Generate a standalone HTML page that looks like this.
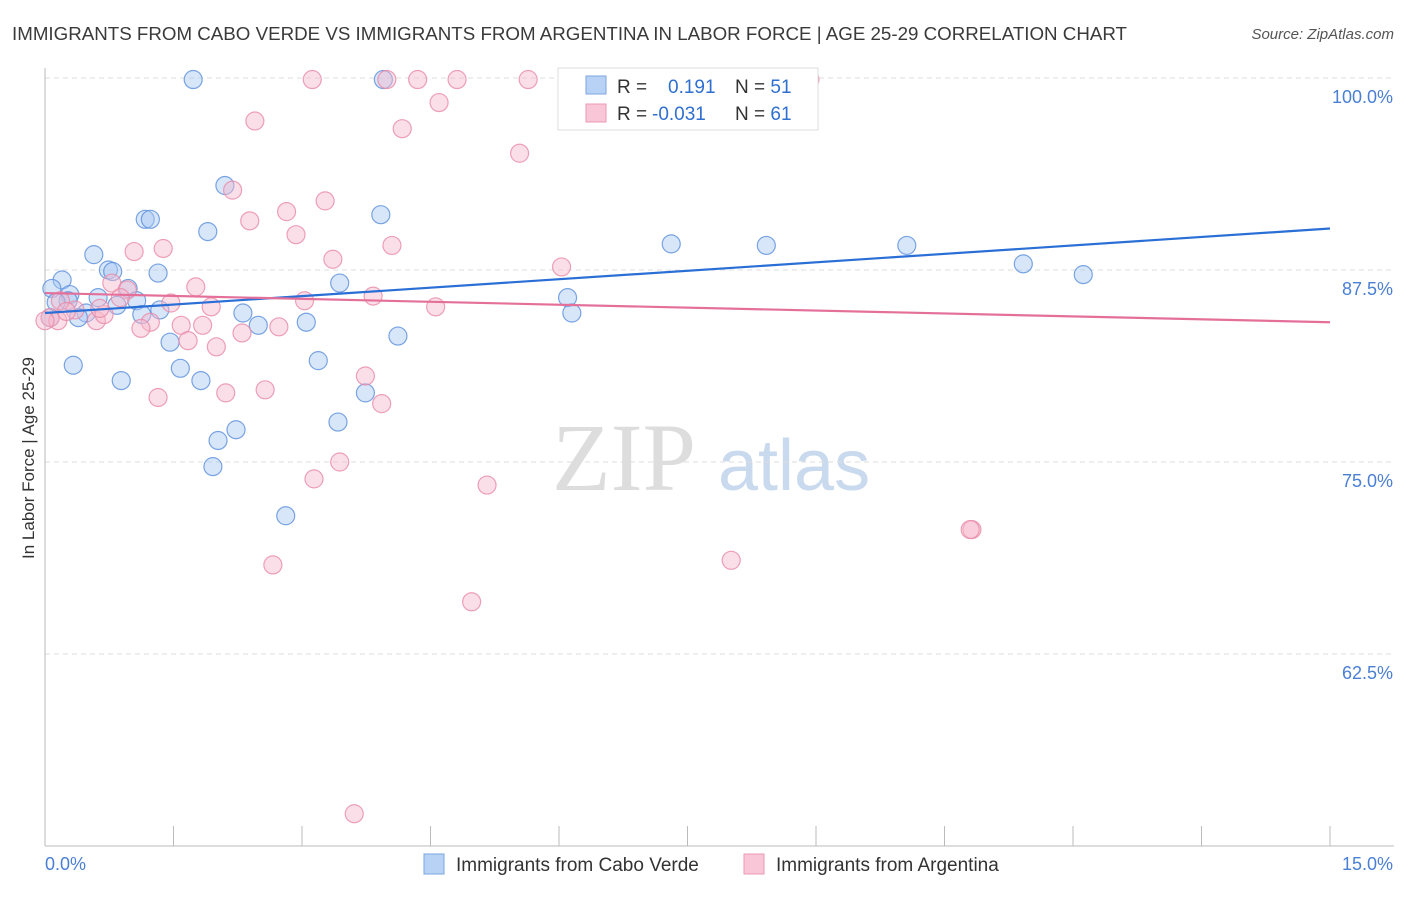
<!DOCTYPE html>
<html><head><meta charset="utf-8"><style>
body{margin:0;background:#fff;font-family:"Liberation Sans",sans-serif;}
</style></head><body>
<svg width="1406" height="892" xmlns="http://www.w3.org/2000/svg" style="font-family:'Liberation Sans',sans-serif">
<text x="12" y="40" font-size="18.5" fill="#3a3a3a" textLength="1115" lengthAdjust="spacingAndGlyphs">IMMIGRANTS FROM CABO VERDE VS IMMIGRANTS FROM ARGENTINA IN LABOR FORCE | AGE 25-29 CORRELATION CHART</text>
<text x="1394" y="39" font-size="15" fill="#555" font-style="italic" text-anchor="end">Source: ZipAtlas.com</text>
<g><text x="552" y="490" font-size="96" fill="#ddd" font-family="Liberation Serif">ZIP</text><text x="718" y="490" font-size="72" fill="#c9d9ee">atlas</text></g>
<g id="grid"></g>
<g id="axes"></g>
<g id="marks"></g>
<text transform="translate(34,458) rotate(-90)" font-size="17" fill="#333" text-anchor="middle">In Labor Force | Age 25-29</text>
<g>
<rect x="558" y="68" width="260" height="62" fill="#fff" stroke="#ddd"/>
<rect x="586" y="76" width="20" height="18" fill="#b8d2f5" stroke="#7aa5e0"/>
<rect x="586" y="104" width="20" height="18" fill="#f8c6d6" stroke="#ec9ab5"/>
<text x="617" y="93" font-size="19" fill="#333">R = <tspan fill="#2f6fd0" x="668">0.191</tspan><tspan fill="#333" x="735">N = </tspan><tspan fill="#2f6fd0">51</tspan></text>
<text x="617" y="120" font-size="19" fill="#333">R = <tspan fill="#2f6fd0" x="652">-0.031</tspan><tspan fill="#333" x="735">N = </tspan><tspan fill="#2f6fd0">61</tspan></text>
</g>
<g>
<rect x="424" y="854" width="20" height="20" fill="#b8d2f5" stroke="#7aa5e0"/>
<text x="456" y="871" font-size="19" fill="#333">Immigrants from Cabo Verde</text>
<rect x="744" y="854" width="20" height="20" fill="#f8c6d6" stroke="#ec9ab5"/>
<text x="776" y="871" font-size="19" fill="#333">Immigrants from Argentina</text>
</g>
</svg>
<script>
const yTicks=[100,87.5,75,62.5];
const yTickLabels=["100.0%","87.5%","75.0%","62.5%"];
const xTickLabels=["0.0%","15.0%"];
const blueX=[1.73,3.95,6.36,2.10,1.17,1.23,1.90,3.92,0.57,0.74,0.79,1.32,0.20,0.08,0.29,0.27,0.62,0.84,0.97,1.07,1.34,1.13,0.48,0.39,0.06,2.31,2.49,3.05,3.44,4.12,1.46,0.33,1.58,0.89,1.82,3.19,3.74,2.23,2.02,3.42,1.96,2.81,6.10,6.15,7.31,8.42,10.06,11.42,12.12,0.13,6.30];
const blueY=[99.9,99.9,99.9,93.0,90.8,90.8,90.0,91.1,88.5,87.5,87.4,87.3,86.85,86.3,85.9,85.5,85.7,85.2,86.3,85.5,84.9,84.6,84.7,84.4,84.4,84.7,83.9,84.1,86.65,83.2,82.8,81.3,81.1,80.3,80.3,81.6,79.5,77.1,76.4,77.6,74.7,71.5,85.7,84.7,89.2,89.1,89.1,87.9,87.2,85.4,99.9];
const pinkX=[3.12,3.99,4.35,4.81,5.64,6.25,8.93,4.60,2.45,4.17,5.54,2.19,3.27,2.82,2.39,2.93,4.05,1.04,1.38,3.36,6.03,1.76,0.78,0.96,1.47,3.03,3.83,4.56,1.94,0.18,0.06,0.15,0.60,1.23,1.59,1.84,2.73,2.30,1.12,0.69,1.67,2.00,2.57,2.11,1.32,3.74,3.93,3.44,3.14,5.16,10.82,10.80,8.01,2.66,4.98,3.61,0.88,0.35,0.25,0.0,0.64];
const pinkY=[99.9,99.9,99.9,99.9,99.9,99.9,99.9,98.4,97.2,96.7,95.1,92.7,92.0,91.3,90.7,89.8,89.1,88.7,88.9,88.2,87.7,86.4,86.65,86.2,85.35,85.5,85.8,85.1,85.1,85.5,84.4,84.2,84.2,84.1,83.9,83.9,83.8,83.4,83.7,84.6,82.9,82.5,79.7,79.5,79.2,80.6,78.8,75.0,73.9,73.5,70.6,70.6,68.6,68.3,65.9,52.1,85.7,84.9,84.8,84.2,85.0];
const blueTrend=[84.7,90.2];
const pinkTrend=[86.0,84.1];
const NS="http://www.w3.org/2000/svg";
const xS=v=>45+v/15*1285;
const yS=v=>78+(100-v)*15.36;
function mk(t,a,p){const e=document.createElementNS(NS,t);for(const k in a)e.setAttribute(k,a[k]);p.appendChild(e);return e;}
const grid=document.getElementById('grid'),axes=document.getElementById('axes'),marks=document.getElementById('marks');
yTicks.forEach((t,i)=>{
 const l=mk('line',{x1:45,x2:1394,y1:yS(t),y2:yS(t),stroke:'#ddd','stroke-dasharray':'5,4'},grid);
 
 
 const tx=mk('text',{x:1393,y:yS(t)+25,'font-size':18,fill:'#4a7fd4','text-anchor':'end'},axes);
 tx.textContent=yTickLabels[i];
 
 
});
const ax=mk('line',{x1:45,x2:45,y1:68,y2:846,stroke:'#bbb'},axes);


const bx=mk('line',{x1:45,x2:1394,y1:846,y2:846,stroke:'#bbb'},axes);


for(let i=0;i<=10;i++){
 const t=mk('line',{x1:xS(i*1.5),x2:xS(i*1.5),y1:826,y2:846,stroke:'#bbb'},axes);
 
 
}
[[0,45,'start'],[15,1393,'end']].forEach((d,i)=>{
 const t=mk('text',{x:d[1],y:870,'font-size':18,fill:'#4a7fd4','text-anchor':d[2]},axes);
 t.textContent=xTickLabels[i];
 
 
});
function pts(X,Y,fill,stroke,name){X.forEach((x,i)=>{
 const c=mk('circle',{cx:xS(x),cy:yS(Y[i]),r:9,fill:fill,'fill-opacity':0.45,stroke:stroke,'stroke-opacity':0.8,'stroke-width':1.2},marks);
 
 
});}
pts(blueX,blueY,'#a9c8f2','#5a8fdc','point-cabo-verde');
pts(pinkX,pinkY,'#f6b8cc','#e88aa8','point-argentina');
const bl=mk('line',{x1:xS(0),y1:yS(blueTrend[0]),x2:xS(15),y2:yS(blueTrend[1]),stroke:'#2a6fd6','stroke-width':2.2},marks);


const pl=mk('line',{x1:xS(0),y1:yS(pinkTrend[0]),x2:xS(15),y2:yS(pinkTrend[1]),stroke:'#e4709a','stroke-width':2.2},marks);


</script>
</body></html>
